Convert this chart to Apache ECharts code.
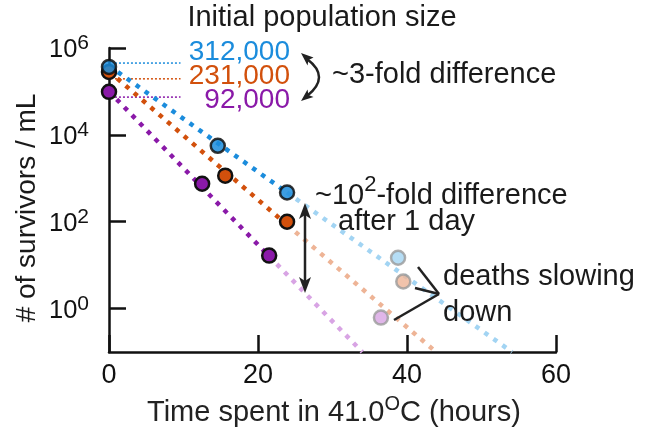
<!DOCTYPE html>
<html><head><meta charset="utf-8">
<script src="https://cdn.jsdelivr.net/npm/echarts@6/dist/echarts.min.js"></script>
<style>html,body{margin:0;padding:0;background:#fff}#c{width:654px;height:434px}</style>
</head><body><div id="c"></div>
<script>
// ---- data ----
const blueHours = [0, 14.6, 23.9];
const blueSurvivors = [3.66e5, 5600, 470];
const orangeHours = [0, 15.6, 23.9];
const orangeSurvivors = [2.8e5, 1150, 100];
const purpleHours = [0, 12.5, 21.5];
const purpleSurvivors = [9.8e4, 748, 16.6];
// late (faded) measurements: blue, orange, purple
const lateHours = [38.8, 39.5, 36.5];
const lateSurvivors = [14.8, 4.2, 0.62];
// exponential fit lines (start, end of measured part, where they leave the axis)
const blueFitHours = [0, 23.9, 54.1];
const blueFitSurvivors = [3.9e5, 470, 0.1];
const orangeFitHours = [0, 23.9, 43.9];
const orangeFitSurvivors = [2.9e5, 85, 0.1];
const purpleFitHours = [0, 21.5, 34.0];
const purpleFitSurvivors = [1.0e5, 16, 0.1];
// guide lines from the t=0 points to the initial size labels
const guideHours = [0.8, 9.6];
const guideSurvivors = [4.5e5, 1.95e5, 7.4e4];
const initialSizeLabels = ['312,000', '231,000', '92,000'];
const xTickValues = [0, 20, 40, 60];
const yTickValues = [1, 100, 1e4, 1e6];

// ---- styles ----
const FONT = '"Liberation Sans", Arial, Helvetica, sans-serif';
const INK = '#1a1a1a';
const blue = '#1b8cdc', orange = '#d2500c', purple = '#8a19a8';
const blueLight = '#a2d4f3', orangeLight = '#eeb496', purpleLight = '#d8a4e4';
const colors = [blue, orange, purple];
const lightColors = [blueLight, orangeLight, purpleLight];

function pairs(xs, ys, from, to) {
  const out = [];
  for (let i = from; i <= to; i++) out.push([xs[i], ys[i]]);
  return out;
}
function fitLine(xs, ys, from, to, color) {
  return {
    type: 'line', data: pairs(xs, ys, from, to), symbol: 'none', silent: true,
    lineStyle: { color: color, width: 4.5, type: [4.5, 6.5], cap: 'butt' }, z: 2
  };
}
function points(xs, ys, color, opacity) {
  return {
    type: 'scatter', data: pairs(xs, ys, 0, xs.length - 1), symbol: 'circle', symbolSize: 14,
    itemStyle: { color: color, borderColor: '#111', borderWidth: 2.5, opacity: opacity }, z: 5
  };
}

const series = [];
guideSurvivors.forEach((v, i) => {
  series.push({
    type: 'line', data: [[guideHours[0], v], [guideHours[1], v]], symbol: 'none', silent: true,
    lineStyle: { color: colors[i], width: 1.5, type: [2, 2] }, z: 1
  });
});
series.push(fitLine(blueFitHours, blueFitSurvivors, 1, 2, blueLight));
series.push(fitLine(orangeFitHours, orangeFitSurvivors, 1, 2, orangeLight));
series.push(fitLine(purpleFitHours, purpleFitSurvivors, 1, 2, purpleLight));
series.push(fitLine(blueFitHours, blueFitSurvivors, 0, 1, blue));
series.push(fitLine(orangeFitHours, orangeFitSurvivors, 0, 1, orange));
series.push(fitLine(purpleFitHours, purpleFitSurvivors, 0, 1, purple));
series.push({
  type: 'scatter', symbol: 'circle', symbolSize: 14, z: 5,
  data: lateHours.map((h, i) => ({ value: [h, lateSurvivors[i]], itemStyle: { color: lightColors[i] } })),
  itemStyle: { borderColor: '#9a9a9a', borderWidth: 2.5 }
});
series.push(points(purpleHours, purpleSurvivors, purple, 1));
series.push(points(orangeHours, orangeSurvivors, orange, 1));
series.push(points(blueHours, blueSurvivors, blue, 0.85));

const textBase = { font: '29px ' + FONT, fill: INK, textVerticalAlign: 'middle' };
function txt(x, y, text, extra) {
  return { type: 'text', x: x, y: y, z: 10, style: Object.assign({}, textBase, { text: text }, extra || {}) };
}
// text made of pieces (for superscripts), laid out left to right
const measureCtx = document.createElement('canvas').getContext('2d');
function seq(x, y, parts, fill) {
  const out = [];
  let cx = x;
  parts.forEach(p => {
    const font = p.size + 'px ' + FONT;
    out.push({ type: 'text', x: cx, y: y + (p.dy || 0), z: 10,
      style: { text: p.text, font: font, fill: fill, textAlign: 'left', textVerticalAlign: 'middle' } });
    measureCtx.font = font;
    cx += measureCtx.measureText(p.text).width;
  });
  return out;
}
const numFont = '28px ' + FONT;
const arrowStroke = { stroke: '#222', lineWidth: 2.5, fill: null };
const graphic = [
  txt(322, 18, 'Initial population size', { textAlign: 'center' }),
  txt(290, 52, initialSizeLabels[0], { textAlign: 'right', fill: blue, font: numFont }),
  txt(290, 76, initialSizeLabels[1], { textAlign: 'right', fill: orange, font: numFont }),
  txt(290, 100, initialSizeLabels[2], { textAlign: 'right', fill: purple, font: numFont }),
  txt(332, 75, '~3-fold difference'),
  ...seq(315, 196, [{ text: '~10', size: 29 }, { text: '2', size: 22, dy: -11 }, { text: '-fold difference', size: 29 }], INK),
  txt(338, 222, 'after 1 day'),
  txt(443, 277, 'deaths slowing'),
  txt(443, 313, 'down'),
  ...seq(147, 413, [{ text: 'Time spent in 41.0', size: 29 }, { text: 'O', size: 20, dy: -9 }, { text: 'C (hours)', size: 29 }], '#222'),
  { type: 'text', x: 27, y: 208, rotation: Math.PI / 2, z: 10,
    style: Object.assign({}, textBase, { text: '# of survivors / mL', textAlign: 'center', font: '28px ' + FONT }) },
  // curved double arrow
  { type: 'bezierCurve', z: 10, shape: { x1: 307, y1: 59, x2: 307, y2: 96, cpx1: 331, cpy1: 77 }, style: arrowStroke },
  { type: 'polygon', z: 10, shape: { points: [[301, 53], [313.5, 57.5], [308.5, 60], [307.5, 65.5]] }, style: { fill: '#222' } },
  { type: 'polygon', z: 10, shape: { points: [[301, 101], [307.5, 89.5], [308.5, 95], [313.5, 97]] }, style: { fill: '#222' } },
  // vertical double arrow
  { type: 'line', z: 10, shape: { x1: 305, y1: 212, x2: 305, y2: 284 }, style: arrowStroke },
  { type: 'polygon', z: 10, shape: { points: [[305, 203], [311, 219], [305, 215], [299, 219]] }, style: { fill: '#222' } },
  { type: 'polygon', z: 10, shape: { points: [[305, 293], [311, 277], [305, 281], [299, 277]] }, style: { fill: '#222' } },
  // deaths slowing pointer lines
  { type: 'line', z: 10, shape: { x1: 418, y1: 267, x2: 439, y2: 294 }, style: arrowStroke },
  { type: 'line', z: 10, shape: { x1: 415, y1: 288, x2: 439, y2: 294 }, style: arrowStroke },
  { type: 'line', z: 10, shape: { x1: 394, y1: 320, x2: 439, y2: 294 }, style: arrowStroke }
];

const chart = echarts.init(document.getElementById('c'), null, { renderer: 'canvas' });
chart.setOption({
  animation: false,
  backgroundColor: '#fff',
  grid: { left: 109, right: 98, top: 48, bottom: 82, containLabel: false },
  xAxis: {
    type: 'value', min: 0, max: 60, interval: 20,
    axisLine: { show: true, onZero: false, lineStyle: { color: '#111', width: 2.5 } },
    axisTick: { show: true, inside: true, length: 17, lineStyle: { color: '#111', width: 2.5 } },
    axisLabel: { color: '#111', fontFamily: FONT, fontSize: 27, margin: 10 },
    splitLine: { show: false }
  },
  yAxis: {
    type: 'log', logBase: 10, min: 0.1, max: 1e6,
    axisLine: { show: true, onZero: false, lineStyle: { color: '#111', width: 2.5 } },
    axisTick: { show: true, inside: true, length: 17, customValues: yTickValues, lineStyle: { color: '#111', width: 2.5 } },
    axisLabel: {
      customValues: yTickValues, margin: 20,
      formatter: v => '{b|10}{s|' + Math.round(Math.log10(v)) + '}',
      rich: {
        b: { fontFamily: FONT, fontSize: 25.5, color: '#111', lineHeight: 30, verticalAlign: 'bottom' },
        s: { fontFamily: FONT, fontSize: 21, color: '#111', lineHeight: 16, verticalAlign: 'top' }
      }
    },
    splitLine: { show: false }, minorTick: { show: false }
  },
  graphic: graphic,
  series: series
});
</script></body></html>
